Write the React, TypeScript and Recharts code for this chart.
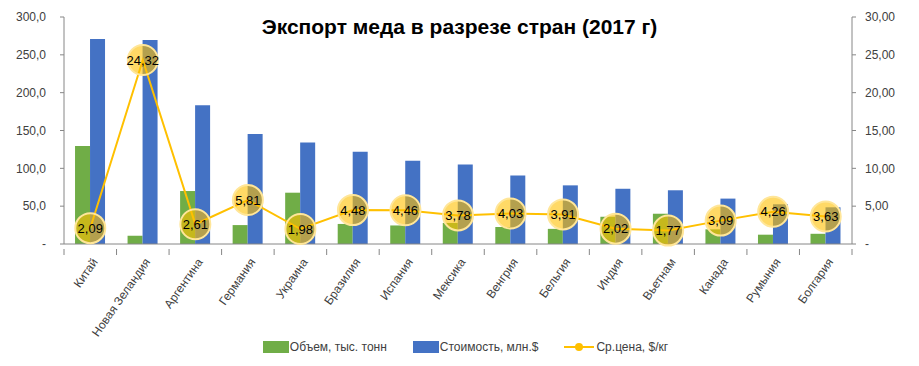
import React from "react";
import { ComposedChart, Bar, Line, XAxis, YAxis, Legend, LabelList } from "recharts";

const countries = [
  "Китай", "Новая Зеландия", "Аргентина", "Германия", "Украина", "Бразилия", "Испания",
  "Мексика", "Венгрия", "Бельгия", "Индия", "Вьетнам", "Канада", "Румыния", "Болгария",
];
const volume = [129.5, 11, 70, 25, 67.8, 26.5, 24.5, 27.8, 22.5, 20, 36, 40, 19.4, 12.3, 13.5];
const cost = [271, 269.5, 183.5, 145.5, 134, 122, 110, 105, 90.5, 77.5, 73, 71, 60, 52.5, 48.5];
const price = [2.09, 24.32, 2.61, 5.81, 1.98, 4.48, 4.46, 3.78, 4.03, 3.91, 2.02, 1.77, 3.09, 4.26, 3.63];
const leftTicks = [0, 50, 100, 150, 200, 250, 300];
const rightTicks = [0, 5, 10, 15, 20, 25, 30];
const seriesNames = ["Объем, тыс. тонн", "Стоимость, млн.$", "Ср.цена, $/кг"];

const data = countries.map((name, i) => ({ name, volume: volume[i], cost: cost[i], price: price[i] }));

const font = "'Liberation Sans', Arial, sans-serif";
const W = 919;
const H = 366;
const LEFT_W = 64;
const RIGHT_W = 67;
const BAND = (W - LEFT_W - RIGHT_W) / countries.length;

const fmtLeft = (v: number) => (v === 0 ? "-" : v.toFixed(1).replace(".", ","));
const fmtRight = (v: number) => (v === 0 ? "-" : v.toFixed(2).replace(".", ","));

const CountryTick = (props: any) => {
  const { x, y, payload, index } = props;
  const last = index === countries.length - 1;
  return (
    <g>
      <line x1={x - BAND / 2} x2={x - BAND / 2} y1={y - 3} y2={y + 3} stroke="#868686" />
      {last && <line x1={x + BAND / 2} x2={x + BAND / 2} y1={y - 3} y2={y + 3} stroke="#868686" />}
      <text
        x={x + 8}
        y={y + 10}
        transform={`rotate(-55, ${x + 8}, ${y + 10})`}
        textAnchor="end"
        fontSize={12}
        fill="#404040"
        fontFamily={font}
      >
        {payload.value}
      </text>
    </g>
  );
};

const LegendContent = (props: any) => {
  const items = [...(props.payload || [])].sort(
    (a: any, b: any) => seriesNames.indexOf(a.value) - seriesNames.indexOf(b.value)
  );
  return (
    <div style={{ display: "flex", justifyContent: "center", fontFamily: font, fontSize: 12, color: "#404040", height: 20, alignItems: "center", paddingLeft: 12 }}>
      {items.map((it: any, i: number) => (
        <div key={it.value} style={{ display: "flex", alignItems: "center", marginRight: i === items.length - 1 ? 0 : 26 }}>
          {it.type === "line" ? (
            <svg width={30} height={12} style={{ marginRight: 2 }}>
              <line x1={0} x2={30} y1={6} y2={6} stroke="#FFC000" strokeWidth={2} />
              <circle cx={15} cy={6} r={4} fill="#FFC000" />
            </svg>
          ) : (
            <svg width={26} height={12} style={{ marginRight: 1 }}>
              <rect x={0} y={0} width={26} height={12} fill={it.color} />
            </svg>
          )}
          <span>{it.value}</span>
        </div>
      ))}
    </div>
  );
};

export default function App() {
  return (
    <div style={{ position: "absolute", left: 0, top: 0, width: W, height: H, background: "#fff" }}>
      <div
        style={{
          position: "absolute",
          top: 15,
          left: 0,
          width: W,
          textAlign: "center",
          fontFamily: font,
          fontWeight: "bold",
          fontSize: 21,
          color: "#000",
          zIndex: 2,
          pointerEvents: "none",
        }}
      >
        Экспорт меда в разрезе стран (2017 г)
      </div>
      <ComposedChart
        width={W}
        height={H}
        data={data}
        margin={{ top: 17, right: 0, left: 0, bottom: 9 }}
        barGap={0}
        barCategoryGap="21%"
      >
        <XAxis
          dataKey="name"
          interval={0}
          height={93}
          tick={<CountryTick />}
          tickLine={false}
          axisLine={{ stroke: "#868686" }}
        />
        <YAxis
          yAxisId="left"
          width={LEFT_W}
          domain={[0, 300]}
          ticks={leftTicks}
          tickFormatter={fmtLeft}
          tickSize={4}
          tickMargin={14}
          axisLine={{ stroke: "#868686" }}
          tickLine={{ stroke: "#868686" }}
          tick={{ fontSize: 12, fill: "#404040", fontFamily: font }}
        />
        <YAxis
          yAxisId="right"
          orientation="right"
          width={RIGHT_W}
          domain={[0, 30]}
          ticks={rightTicks}
          tickFormatter={fmtRight}
          tickSize={4}
          tickMargin={9}
          axisLine={{ stroke: "#868686" }}
          tickLine={{ stroke: "#868686" }}
          tick={{ fontSize: 12, fill: "#404040", fontFamily: font }}
        />
        <Legend verticalAlign="bottom" content={<LegendContent />} />
        <Bar yAxisId="left" dataKey="volume" name={seriesNames[0]} fill="#70AD47" isAnimationActive={false} legendType="rect" />
        <Bar yAxisId="left" dataKey="cost" name={seriesNames[1]} fill="#4472C4" isAnimationActive={false} legendType="rect" />
        <Line
          yAxisId="right"
          dataKey="price"
          name={seriesNames[2]}
          stroke="#FFC000"
          strokeWidth={2}
          legendType="line"
          dot={{ r: 15, fill: "#FFC000", fillOpacity: 0.6, stroke: "#FFE699", strokeWidth: 2 }}
          activeDot={false}
          isAnimationActive={false}
        >
          <LabelList
            dataKey="price"
            position="center"
            formatter={(v: any) => Number(v).toFixed(2).replace(".", ",")}
            fill="#000"
            fontSize={13}
            fontFamily={font}
          />
        </Line>
      </ComposedChart>
    </div>
  );
}
